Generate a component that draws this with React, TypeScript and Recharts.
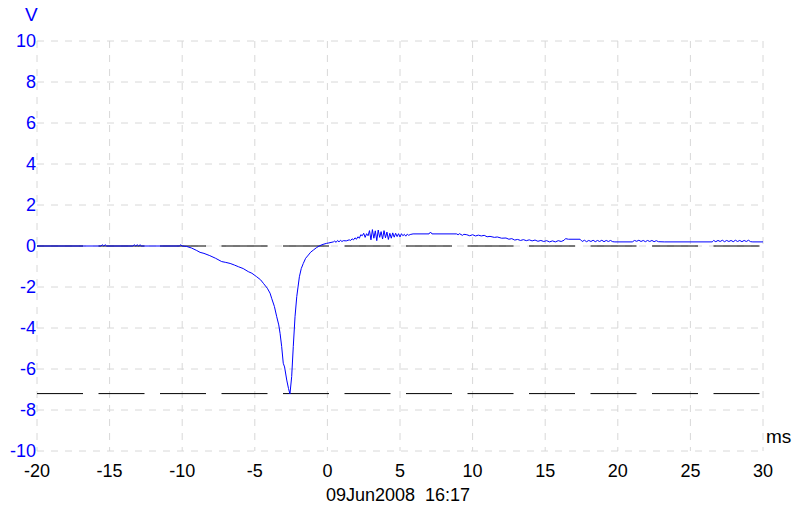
import { LineChart, Line, XAxis, YAxis, CartesianGrid, ReferenceLine } from "recharts";

const baseline: [number, number][] = [
  [-20, 0], [-15.6, 0], [-15.5, 0.06], [-15.4, 0], [-15.3, 0.06], [-15.2, 0],
  [-13.4, 0], [-13.3, 0.06], [-13.2, 0], [-13.1, 0.06], [-13.0, 0], [-12.9, 0.06], [-12.8, 0],
  [-10.2, 0], [-10.1, 0.06], [-10.0, 0], [-9.7, -0.02],
];

const dip: [number, number][] = [
  [-9.35, -0.1], [-9.0, -0.22], [-8.77, -0.31], [-8.5, -0.36], [-8.1, -0.47], [-7.7, -0.6],
  [-7.28, -0.76], [-7.0, -0.8], [-6.7, -0.85], [-6.4, -0.93], [-6.13, -1.01], [-5.8, -1.1],
  [-5.45, -1.25], [-5.2, -1.33], [-4.87, -1.5], [-4.6, -1.65], [-4.41, -1.82], [-4.14, -2.06],
  [-3.95, -2.3], [-3.84, -2.55], [-3.65, -2.95], [-3.49, -3.45], [-3.35, -3.85], [-3.26, -4.26],
  [-3.15, -4.9], [-3.04, -5.72], [-2.95, -5.9], [-2.8, -6.54], [-2.68, -6.95], [-2.58, -7.22],
];

const recovery: [number, number][] = [
  [-2.46, -6.37], [-2.35, -4.91], [-2.23, -3.45], [-2.11, -2.47], [-1.93, -1.5], [-1.8, -1.1],
  [-1.66, -0.85], [-1.5, -0.6], [-1.31, -0.44], [-1.15, -0.3], [-0.97, -0.2], [-0.75, -0.08],
  [-0.51, 0.02], [-0.3, 0.08], [-0.05, 0.13], [0.1, 0.15], [0.41, 0.2],
  [0.5, 0.24], [0.6, 0.18], [0.7, 0.27], [0.8, 0.2], [0.9, 0.28], [1.0, 0.22], [1.1, 0.26],
  [1.3, 0.25], [1.5, 0.3], [1.6, 0.27], [1.7, 0.35], [1.8, 0.3], [1.9, 0.4], [2.0, 0.33],
  [2.1, 0.45], [2.2, 0.38], [2.3, 0.55],
];

const noisy: [number, number][] = [
  [2.4, 0.5], [2.5, 0.62], [2.6, 0.42], [2.7, 0.6], [2.8, 0.5], [2.9, 0.75], [3.0, 0.3],
  [3.1, 0.8], [3.2, 0.38], [3.3, 0.74], [3.4, 0.26], [3.5, 0.78], [3.6, 0.42], [3.7, 0.7],
  [3.8, 0.34], [3.9, 0.75], [4.0, 0.4], [4.1, 0.68], [4.2, 0.32], [4.3, 0.62], [4.4, 0.38],
  [4.5, 0.64], [4.6, 0.43], [4.7, 0.62], [4.8, 0.46], [4.9, 0.6], [5.0, 0.44], [5.1, 0.6],
  [5.2, 0.5], [5.3, 0.57], [5.4, 0.48], [5.5, 0.58], [5.6, 0.52], [5.7, 0.56], [5.9, 0.59],
  [7.0, 0.59], [7.1, 0.68], [7.2, 0.59], [8.9, 0.59],
];

const tail: [number, number][] = [
  [9.0, 0.55], [9.1, 0.6], [9.3, 0.52], [9.4, 0.57], [9.6, 0.55], [9.8, 0.5], [10.0, 0.55],
  [10.2, 0.49], [10.4, 0.53], [10.6, 0.49], [10.8, 0.52], [11.0, 0.45], [11.2, 0.47],
  [11.5, 0.42], [11.7, 0.44], [12.0, 0.38], [12.3, 0.39], [12.5, 0.33], [12.7, 0.36],
  [12.9, 0.29], [13.1, 0.32], [13.3, 0.27], [13.5, 0.31], [13.7, 0.26], [13.9, 0.3],
  [14.1, 0.25], [14.3, 0.29], [14.5, 0.23], [14.7, 0.27], [14.9, 0.22], [15.1, 0.26],
  [15.3, 0.2], [15.5, 0.25], [15.7, 0.2], [15.9, 0.26], [16.1, 0.22], [16.3, 0.28],
  [16.4, 0.36], [16.6, 0.33], [17.4, 0.33], [17.55, 0.22], [17.7, 0.28], [17.85, 0.21],
  [18.0, 0.27], [18.15, 0.22], [18.3, 0.28], [18.45, 0.21], [18.6, 0.27], [18.75, 0.22],
  [18.9, 0.28], [19.05, 0.21], [19.2, 0.27], [19.35, 0.22], [19.5, 0.27], [19.65, 0.21],
  [19.8, 0.2], [21.0, 0.2], [21.15, 0.27], [21.3, 0.23], [21.45, 0.28], [21.6, 0.22],
  [21.75, 0.27], [21.9, 0.21], [22.05, 0.27], [22.2, 0.22], [22.35, 0.27], [22.5, 0.21],
  [22.65, 0.26], [22.8, 0.21], [23.2, 0.2], [26.5, 0.2], [26.6, 0.27], [26.75, 0.21],
  [26.9, 0.27], [27.05, 0.22], [27.2, 0.28], [27.35, 0.21], [27.5, 0.27], [27.65, 0.22],
  [27.8, 0.27], [27.95, 0.21], [28.1, 0.28], [28.25, 0.22], [28.4, 0.27], [28.55, 0.21],
  [28.7, 0.27], [28.85, 0.22], [29.0, 0.28], [29.15, 0.21], [29.3, 0.2], [30, 0.2],
];

const xTicks = [-20, -15, -10, -5, 0, 5, 10, 15, 20, 25, 30];
const yTicks = [-10, -8, -6, -4, -2, 0, 2, 4, 6, 8, 10];
const markerLevels = [0, -7.2];

const data = [...baseline, ...dip, ...recovery, ...noisy, ...tail].map(([t, v]) => ({ t, v }));

const FONT = "'Liberation Sans', Arial, sans-serif";
const BLUE = "#0000ff";

export default function App() {
  return (
    <div style={{ position: "absolute", left: 0, top: 0, width: 796, height: 514, background: "#fff", fontFamily: FONT }}>
      <LineChart width={796} height={514} data={data} margin={{ top: 41, right: 33, bottom: 33, left: 0 }}>
        <CartesianGrid stroke="#d8d8d8" strokeDasharray="7 7" />
        <XAxis
          dataKey="t"
          type="number"
          domain={[-20, 30]}
          ticks={xTicks}
          axisLine={false}
          tickLine={false}
          tickSize={0}
          tickMargin={13}
          height={30}
          tick={{ fill: "#000", fontSize: 18, fontFamily: FONT }}
        />
        <YAxis
          type="number"
          domain={[-10, 10]}
          ticks={yTicks}
          axisLine={false}
          tickLine={false}
          tickSize={0}
          tickMargin={1}
          width={37}
          tick={{ fill: BLUE, fontSize: 18, fontFamily: FONT }}
        />
        {markerLevels.map((lv) => (
          <ReferenceLine key={lv} y={lv} stroke="#000" strokeWidth={1} strokeDasharray="46 15.5" />
        ))}
        <Line dataKey="v" stroke={BLUE} strokeWidth={1} dot={false} isAnimationActive={false} />
      </LineChart>
      <div style={{ position: "absolute", left: 25, top: 4, fontSize: 19, color: BLUE }}>V</div>
      <div style={{ position: "absolute", left: 766, top: 426, fontSize: 19, color: "#000" }}>ms</div>
      <div style={{ position: "absolute", left: 326, top: 485, fontSize: 18, color: "#000", whiteSpace: "pre" }}>
        09Jun2008  16:17
      </div>
    </div>
  );
}
